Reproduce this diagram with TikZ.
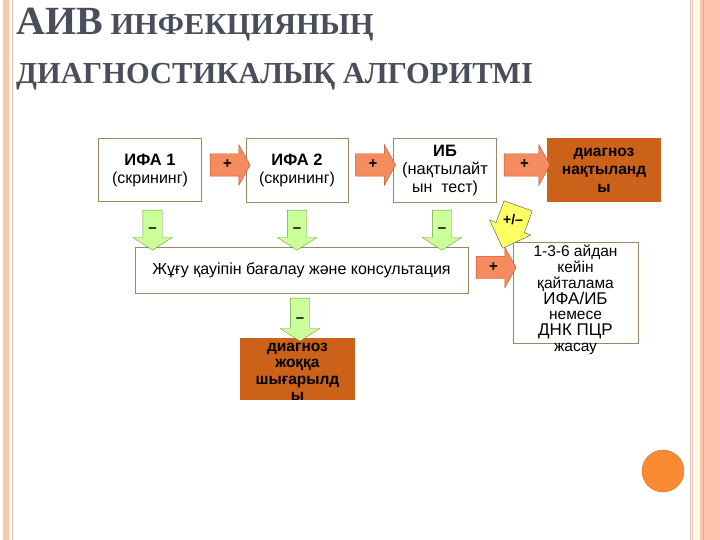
\documentclass[tikz,border=0pt]{standalone}
\usepackage{fontspec}
\setmainfont{Liberation Sans}
\newfontfamily\titlefont{Liberation Serif}
\usepackage{xcolor}
\usepackage{tikz}
\usetikzlibrary{
  arrows.meta,
  positioning,
  shapes.arrows,
}
\definecolor{titlegray}{HTML}{4A4E5C}
\definecolor{boxedge}{HTML}{9C8760}
\definecolor{diagbrown}{HTML}{CC6119}
\definecolor{plusorange}{HTML}{F58C60}
\definecolor{plusedge}{HTML}{C8502A}
\definecolor{minusgreen}{HTML}{CCFF99}
\definecolor{minusedge}{HTML}{6E9A3C}
\definecolor{unsureyellow}{HTML}{FFFF66}
\definecolor{frameouter}{HTML}{FFC4AD}
\definecolor{frameline}{HTML}{EBC2B0}
\definecolor{framedark}{HTML}{F4A486}
\definecolor{framecream}{HTML}{FFF6E6}
\definecolor{dotorange}{HTML}{FA8A32}

\begin{document}
\begin{tikzpicture}[
    x=1pt, y=-1pt,
    titletext/.style={text=titlegray, inner sep=0pt, anchor=base west,
                      font=\titlefont\bfseries\fontsize{30.5}{30.5}\selectfont},
    testbox/.style={draw=boxedge, fill=white, line width=0.8pt, inner sep=0pt,
                    align=center, font=\fontsize{16}{18}\selectfont},
    diagbox/.style={fill=diagbrown, inner sep=0pt},
    plusarrow/.style={single arrow, draw=plusedge, fill=plusorange, thin,
                      inner xsep=2pt, inner ysep=7pt, text width=8pt, align=center,
                      text height=8pt, text depth=0pt, minimum height=40pt,
                      single arrow head extend=9pt, single arrow tip angle=122,
                      font=\bfseries\fontsize{15}{15}\selectfont},
    minusarrow/.style={single arrow, shape border rotate=270, draw=minusedge,
                       fill=minusgreen, thin, inner sep=3.5pt, text width=12pt,
                       align=center, text height=12pt, text depth=0pt,
                       minimum height=40pt, single arrow head extend=10pt,
                       single arrow tip angle=115,
                       font=\bfseries\fontsize{15}{15}\selectfont},
  ]
  \useasboundingbox (0,0) rectangle (720,540);

  % slide frame
  \fill[frameouter] (3,0) rectangle (9,540);
  \draw[frameline] (12,0) -- (12,540);
  \draw[frameline] (690,0) -- (690,540);
  \draw[frameline] (692.5,0) -- (692.5,540);
  \fill[framecream] (695,0) rectangle (700,540);
  \fill[frameouter] (700,0) rectangle (720,540);
  \draw[framedark] (703,0) -- (703,540);

  % title
  \node[titletext] (title1) at (16,35)
    {{\fontsize{40}{40}\selectfont АИВ} ИНФЕКЦИЯНЫҢ};
  \node[titletext] (title2) at (16,84) {ДИАГНОСТИКАЛЫҚ АЛГОРИТМІ};

  % tests
  \node[testbox, minimum width=103pt, minimum height=63pt] (ifa1) at (150,170)
    {\bfseries\fontsize{16.5}{21}\selectfont ИФА 1\\
     \mdseries\fontsize{16}{18}\selectfont (скрининг)};
  \node[testbox, minimum width=102pt, minimum height=64pt] (ifa2) at (297,170)
    {\bfseries\fontsize{16.5}{21}\selectfont ИФА 2\\
     \mdseries\fontsize{16}{18}\selectfont (скрининг)};
  \node[testbox, minimum width=103pt, minimum height=64pt] (ib) at (445,170)
    {\bfseries\fontsize{16.5}{17}\selectfont ИБ\\
     \mdseries\fontsize{16.5}{15.5}\selectfont (нақтылайт\\ ын\ \ тест)};
  \node[diagbox, minimum width=114pt, minimum height=64pt, align=center,
        font=\bfseries\fontsize{15.5}{18}\selectfont] (dxyes) at (604,170)
    {диагноз\\ нақтыланд\\ ы};

  \node[testbox, minimum width=333pt, minimum height=46pt,
        font=\fontsize{16}{16}\selectfont] (consult) at (301.5,270)
    {Жұғу қауіпін бағалау және консультация};
  \node[testbox, minimum width=125pt, minimum height=101pt] (repeat) at (575.5,292.5) {};
  \node[align=center, inner sep=0pt, font=\fontsize{15.5}{15.8}\selectfont]
    (repeattext) at (575.5,300)
    {1-3-6 айдан\\ кейін\\ қайталама\\ \fontsize{17}{15.8}\selectfont ИФА/ИБ\\
     \fontsize{15.5}{15.8}\selectfont немесе\\
     \fontsize{17}{15.8}\selectfont ДНК ПЦР\\
     \fontsize{15.5}{15.8}\selectfont жасау};

  \node[diagbox, minimum width=115pt, minimum height=62pt] (dxno) at (297.5,369) {};
  \node[align=center, inner sep=0pt, font=\bfseries\fontsize{15.5}{16.5}\selectfont]
    (dxnotext) at (297.5,372) {диагноз\\ жоққа\\ шығарылд\\ ы};

  % block arrows
  \node[plusarrow] (plus1) at (227,165) {+};
  \node[plusarrow] (plus2) at (372.5,165) {+};
  \node[plusarrow, minimum height=46pt] (plus3) at (524,165) {+};
  \node[plusarrow] (plus4) at (493,267.5) {+};

  \node[minusarrow] (minus1) at (152.5,227) {–};
  \node[minusarrow] (minus2) at (297,227) {–};
  \node[minusarrow] (minus3) at (442,227) {–};
  \node[minusarrow, minimum height=43pt] (minus4) at (300,316.5) {–};

  \node[single arrow, shape border uses incircle, shape border rotate=-110,
        draw=black!70, fill=unsureyellow, thin, inner sep=0.5pt,
        minimum height=36pt, single arrow head extend=7pt,
        font=\bfseries\fontsize{14}{14}\selectfont] (unsure) at (513,220) {+/–};

  % corner dot
  \node[circle, fill=dotorange, draw=dotorange!85!black, minimum size=42pt,
        inner sep=0pt] (dot) at (663,471) {};
\end{tikzpicture}
\end{document}
